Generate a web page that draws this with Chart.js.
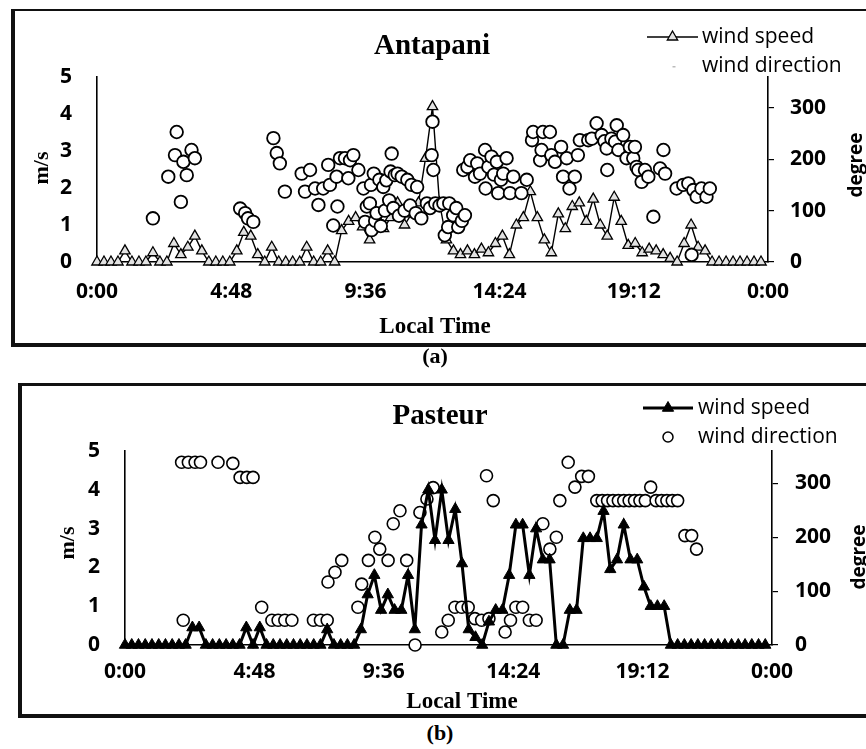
<!DOCTYPE html>
<html><head><meta charset="utf-8">
<script src="https://cdn.jsdelivr.net/npm/chart.js@4.4.1/dist/chart.umd.min.js"></script>
<style>
html,body{margin:0;padding:0;background:#fff;}
body{width:866px;height:749px;position:relative;overflow:hidden;}
.frame{position:absolute;border-style:solid;border-color:#111;}
#frameA{left:11px;top:9px;width:900px;height:332px;border-width:2px 0 4px 4px;}
#frameB{left:18px;top:383px;width:900px;height:328px;border-width:3px 0 4px 4px;}
canvas{position:absolute;left:0;}
#cA{top:0;}
#cB{top:370px;}
.cap{position:absolute;font:bold 22px "Liberation Serif",serif;transform:translate(-50%,-50%);color:#000;}
</style></head>
<body>
<div class="frame" id="frameA"></div>
<div class="frame" id="frameB"></div>
<canvas id="cA" width="866" height="346"></canvas>
<canvas id="cB" width="866" height="350"></canvas>
<div class="cap" style="left:435px;top:356px">(a)</div>
<div class="cap" style="left:440px;top:733px">(b)</div>
<script>
// ---------- data ----------
const xTickHours = [0, 4.8, 9.6, 14.4, 19.2, 24];
const xTickLabels = ['0:00', '4:48', '9:36', '14:24', '19:12', '0:00'];
const speedTicks = [0, 1, 2, 3, 4, 5];
const degreeTicks = [0, 100, 200, 300];
const stepHours = 0.25; // 15-minute records

// Antapani wind speed (m/s), 0:00 .. 23:45
const speedA = [
 0,0,0,0,0.3,0,0,0, 0.25,0,0,0.5,0.2,0.4,0.7,0.3,
 0,0,0,0,0.3,0.8,0.7,0.2, 0,0.4,0,0,0,0,0.4,0,
 0,0.3,0,0.85,1.1,1.2,0.95,0.6, 1.3,0.9,1.2,1.6,1.0,1.3,1.6,2.8,
 4.2,1.6,0.6,0.3,0.2,0.3,0.2,0.35, 0.25,0.5,0.7,0.2,1.0,1.2,1.9,1.2,
 0.6,0.25,1.3,0.9,1.5,1.6,1.1,1.7, 1.0,0.7,1.75,1.1,0.45,0.5,0.25,0.35,
 0.3,0.2,0.1,0,0.5,1.0,0.4,0.3, 0,0,0,0,0,0,0,0
];
// Antapani wind direction (hour, degree)
const dirTimeA = [
 2.00,2.55,2.79,2.85,3.00,3.09,3.21,3.38,3.50,
 5.12,5.30,5.40,5.59,
 6.31,6.43,6.54,6.72,
 7.32,7.44,7.62,7.80,7.92,8.09,8.27,8.33,8.45,8.57,8.60,8.69,8.87,8.99,9.05,9.17,9.35,9.53,9.59,9.65,
 9.76,9.82,9.80,9.90,9.95,10.00,10.10,10.15,10.24,10.30,10.35,10.45,10.50,10.54,10.60,10.65,10.75,10.80,10.90,11.00,11.10,11.20,11.25,11.40,11.45,11.60,
 11.80,11.91,11.97,12.00,12.03,12.10,12.25,12.39,12.44,12.56,12.60,12.74,12.85,12.92,13.05,13.16,
 13.10,13.25,13.35,13.52,13.60,13.70,13.88,13.90,14.00,14.11,14.20,14.30,14.35,14.45,14.53,14.65,14.77,14.89,15.18,15.37,
 15.56,15.60,15.85,15.90,15.95,16.20,16.25,16.38,16.60,16.67,16.80,16.90,17.09,17.20,17.27,
 17.57,17.70,17.87,18.05,18.15,18.23,18.25,18.40,18.53,18.59,18.65,18.82,18.94,19.06,19.18,19.24,19.30,19.36,
 19.48,19.60,19.72,19.90,20.14,20.26,20.32,20.73,20.97,21.15,21.27,21.33,21.45,21.62,21.80,21.92
];
const dirDegA = [
 85,166,208,253,117,195,169,218,202,
 104,95,85,78,
 241,212,192,137,
 172,137,179,143,111,143,189,150,71,166,108,202,202,163,198,208,179,143,78,108,
 114,62,150,172,80,95,160,70,146,100,159,120,176,211,105,169,172,90,166,100,160,110,150,95,146,85,
 114,105,208,273,179,114,110,114,52,68,114,91,105,68,80,91,
 179,185,198,166,192,172,218,143,185,205,170,195,134,160,172,202,134,166,134,160,
 237,253,198,218,253,253,208,195,224,166,202,143,166,208,237,
 237,240,270,247,235,221,179,240,234,266,218,247,202,224,202,224,185,179,
 156,179,166,88,182,218,172,143,150,153,14,140,127,143,127,143
];

// Pasteur wind speed (m/s), 0:00 .. 23:45
const speedB = [
 0,0,0,0,0,0,0,0, 0,0,0.45,0.45,0,0,0,0,
 0,0,0.45,0,0.45,0,0,0, 0,0,0,0,0,0,0.4,0,
 0,0,0,0.4,1.3,1.8,0.9,1.3, 0.9,0.9,1.8,0.4,3.1,4.0,2.7,4.0,
 2.7,3.5,2.1,0.4,0.2,0,0.6,0.9, 0.9,1.8,3.1,3.1,1.8,3.0,2.2,2.2,
 0,0,0.9,0.9,2.75,2.75,2.75,3.45, 1.95,2.2,3.1,2.2,2.2,1.5,1.0,1.0,
 1.0,0,0,0,0,0,0,0, 0,0,0,0,0,0,0,0
];
// Pasteur wind direction (hour, degree)
const dirTimeB = [
 2.10,2.16,2.35,2.60,2.80,3.45,4.00,4.27,4.52,4.75,5.07,5.45,5.68,5.93,6.19,6.99,7.25,7.50,7.53,7.79,
 8.04,8.64,8.78,9.03,9.27,9.45,9.76,9.95,10.20,10.45,10.76,10.94,11.20,11.43,
 11.75,11.99,12.24,12.49,12.73,12.98,13.23,13.41,13.50,13.66,14.10,14.30,14.50,14.75,15.00,15.25,
 15.50,15.76,16.00,16.13,16.44,16.69,16.94,17.19,
 17.50,17.70,17.90,18.10,18.30,18.50,18.70,18.90,19.10,19.30,19.50,19.70,19.90,20.10,20.30,20.50,
 20.77,21.02,21.20
];
const dirDegB = [
 339,46,339,339,339,339,337,311,311,311,70,46,46,46,46,46,46,46,117,135,
 157,70,113,157,200,178,157,225,249,157,0,246,271,292,
 24,46,70,70,70,49,46,314,49,268,24,46,70,70,46,46,
 225,178,200,268,339,293,313,313,
 268,268,268,268,268,268,268,268,268,268,293,268,268,268,268,268,
 203,203,178
];

// ---------- helpers ----------
const speedPoints = arr => arr.map((v, i) => ({x: i * stepHours, y: v}));
const dirPoints = (t, d) => t.map((x, i) => ({x: x, y: d[i]}));
const DEG = Math.PI / 180;

const panelText = {
  id: 'panelText',
  afterDraw(chart, args, opts) {
    const ctx = chart.ctx;
    ctx.save();
    ctx.fillStyle = '#000';
    for (const t of (opts.items || [])) {
      ctx.save();
      ctx.font = t.font;
      ctx.textAlign = t.align || 'center';
      ctx.textBaseline = 'middle';
      ctx.translate(t.x, t.y);
      if (t.rot) ctx.rotate(t.rot * DEG);
      ctx.fillText(t.text, 0, 0);
      ctx.restore();
    }
    const L = opts.legend;
    if (L) {
      const ds = chart.data.datasets;
      ctx.strokeStyle = '#000';
      ctx.lineWidth = L.lineW;
      ctx.beginPath(); ctx.moveTo(L.x1, L.y1); ctx.lineTo(L.x2, L.y1); ctx.stroke();
      ctx.fillStyle = ds[0].pointBackgroundColor;
      ctx.lineWidth = ds[0].pointBorderWidth;
      Chart.helpers.drawPoint(ctx, {pointStyle: 'triangle', radius: L.triR, borderWidth: ds[0].pointBorderWidth, rotation: 0}, (L.x1 + L.x2) / 2, L.y1);
      if (L.circle) {
        ctx.fillStyle = '#fff'; ctx.strokeStyle = '#000'; ctx.lineWidth = 1.5;
        Chart.helpers.drawPoint(ctx, {pointStyle: 'circle', radius: L.circleR, borderWidth: 1.5, rotation: 0}, (L.x1 + L.x2) / 2, L.y2);
      } else {
        ctx.fillStyle = '#bbb';
        ctx.fillRect((L.x1 + L.x2) / 2, L.y2, 3, 1.5);
      }
      ctx.fillStyle = '#000';
      ctx.font = L.font; ctx.textAlign = 'left'; ctx.textBaseline = 'middle';
      ctx.fillText(ds[0].label, L.tx, L.y1);
      ctx.fillText(ds[1].label, L.tx, L.y2);
    }
    ctx.restore();
  }
};

const tickFont = {family: '"Open Sans", sans-serif', size: 21, weight: 'bold'};

function makePanel(id, g, speed, dirT, dirD, sty, texts, legend) {
  return new Chart(document.getElementById(id), {
    type: 'line',
    data: {datasets: [
      {label: 'wind speed', data: speedPoints(speed), yAxisID: 'yL', borderColor: '#000', borderWidth: sty.lineW,
       pointStyle: 'triangle', pointRadius: sty.triR, pointBackgroundColor: sty.triFill, pointBorderColor: '#000',
       pointBorderWidth: sty.triBW, order: sty.speedOrder, tension: 0, clip: false},
      {label: 'wind direction', data: dirPoints(dirT, dirD), yAxisID: 'yR', showLine: false,
       pointStyle: 'circle', pointRadius: sty.cirR, pointBackgroundColor: '#fff', pointBorderColor: '#000',
       pointBorderWidth: sty.cirBW, order: sty.dirOrder, clip: false}
    ]},
    options: {
      responsive: false, animation: false, events: [],
      layout: {padding: {top: g.top, left: 0, right: 0, bottom: 0}},
      plugins: {legend: {display: false}, tooltip: {enabled: false}, title: {display: false},
                panelText: {items: texts, legend: legend}},
      scales: {
        x: {type: 'linear', min: 0, max: 24,
            afterBuildTicks: s => { s.ticks = xTickHours.map(v => ({value: v})); },
            afterFit: s => { s.height = g.xH; },
            grid: {display: false, drawTicks: false, tickLength: 0},
            border: {display: true, color: '#000', width: g.axW},
            ticks: {autoSkip: false, maxRotation: 0, padding: g.xPad, color: '#000', font: tickFont,
                    callback: (v, i) => xTickLabels[i]}},
        yL: {type: 'linear', position: 'left', min: 0, max: 5,
            afterBuildTicks: s => { s.ticks = speedTicks.map(v => ({value: v})); },
            afterFit: s => { s.width = g.leftW; },
            grid: {display: false, drawTicks: false, tickLength: 0},
            border: {display: true, color: '#000', width: g.axW},
            ticks: {padding: g.yPad, color: '#000', font: tickFont}},
        yR: {type: 'linear', position: 'right', min: 0, max: 360,
            afterBuildTicks: s => { s.ticks = degreeTicks.map(v => ({value: v})); },
            afterFit: s => { s.width = g.rightW; },
            grid: {display: true, drawOnChartArea: false, drawTicks: true, tickLength: 6, color: '#000', lineWidth: 1.2},
            border: {display: true, color: '#000', width: g.axW},
            ticks: {padding: g.rPad, color: '#000', font: tickFont}}
      }
    },
    plugins: [panelText]
  });
}

const serifB = s => 'bold ' + s + 'px "Liberation Serif", serif';
const sansB = s => 'bold ' + s + 'px "Open Sans", sans-serif';
const sans = s => s + 'px "Open Sans", sans-serif';

makePanel('cA',
  {top: 77, leftW: 97, rightW: 98, xH: 84, axW: 1.6, xPad: 17, yPad: 25, rPad: 16},
  speedA, dirTimeA, dirDegA,
  {lineW: 1.4, triR: 6, triFill: '#e2e2e2', triBW: 1.3, cirR: 6.3, cirBW: 1.8, speedOrder: 2, dirOrder: 1},
  [
    {text: 'Antapani', x: 432, y: 47, font: serifB(29)},
    {text: 'm/s', x: 42, y: 168, rot: -90, font: serifB(22)},
    {text: 'degree', x: 857, y: 165, rot: -90, font: sansB(19)},
    {text: 'Local Time', x: 435, y: 327, font: serifB(23)}
  ],
  {x1: 647, x2: 698, y1: 37, y2: 66, tx: 702, lineW: 1.6, triR: 6, circle: false, font: sans(21)}
);

makePanel('cB',
  {top: 81, leftW: 125, rightW: 94, xH: 75, axW: 1.6, xPad: 14, yPad: 25, rPad: 17},
  speedB, dirTimeB, dirDegB,
  {lineW: 3, triR: 6.5, triFill: '#000', triBW: 1, cirR: 6, cirBW: 1.6, speedOrder: 1, dirOrder: 2},
  [
    {text: 'Pasteur', x: 440, y: 47, font: serifB(29)},
    {text: 'm/s', x: 68, y: 173, rot: -90, font: serifB(22)},
    {text: 'degree', x: 860, y: 187, rot: -90, font: sansB(19)},
    {text: 'Local Time', x: 462, y: 332, font: serifB(23)}
  ],
  {x1: 643, x2: 693, y1: 38, y2: 67, tx: 698, lineW: 3, triR: 6.5, circle: true, circleR: 5, font: sans(21)}
);
</script>
</body></html>
